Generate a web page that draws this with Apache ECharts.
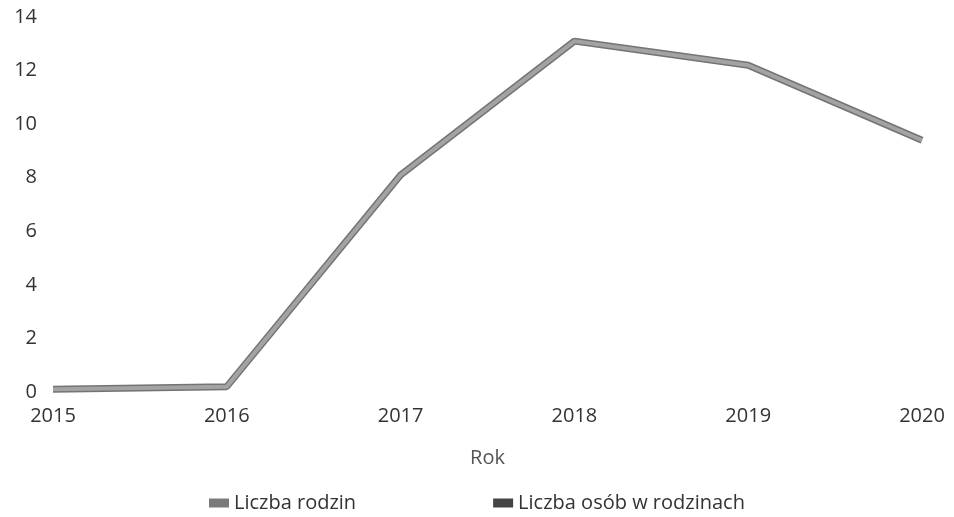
<!DOCTYPE html>
<html>
<head>
<meta charset="utf-8">
<script src="https://cdn.jsdelivr.net/npm/echarts@6/dist/echarts.min.js"></script>
<style>
html,body{margin:0;padding:0;background:#fff;}
#chart{width:954px;height:517px;}
</style>
</head>
<body>
<div id="chart"></div>
<script>
const years = ['2015', '2016', '2017', '2018', '2019', '2020'];
const liczbaRodzin = [0.1, 0.2, 8.1, 13.1, 12.2, 9.4];
const liczbaOsob = [0.1, 0.2, 8.1, 13.1, 12.2, 9.4];
const seriesNames = ['Liczba rodzin', 'Liczba osób w rodzinach'];
const yTicks = { min: 0, max: 14, interval: 2 };

const chart = echarts.init(document.getElementById('chart'));
const font = '"Open Sans", "Noto Sans", sans-serif';
chart.setOption({
  animation: false,
  textStyle: { fontFamily: font },
  grid: { left: 53, right: 32, top: 17, bottom: 125 },
  legend: {
    top: 488,
    left: 204,
    itemGap: 137,
    itemWidth: 20,
    itemHeight: 9,
    icon: 'rect',
    textStyle: { fontFamily: font, fontSize: 20, color: '#333' },
    data: [
      { name: seriesNames[0], itemStyle: { color: '#7a7a7a' } },
      { name: seriesNames[1], itemStyle: { color: '#444' } }
    ]
  },
  xAxis: {
    type: 'category',
    data: years,
    boundaryGap: false,
    name: 'Rok',
    nameLocation: 'middle',
    nameGap: 56,
    nameTextStyle: { fontFamily: font, fontSize: 20, color: '#555' },
    axisLine: { show: false },
    axisTick: { show: false },
    axisLabel: { fontFamily: font, fontSize: 20, color: '#333', margin: 14 }
  },
  yAxis: {
    type: 'value',
    min: yTicks.min,
    max: yTicks.max,
    interval: yTicks.interval,
    splitLine: { show: false },
    axisLine: { show: false },
    axisTick: { show: false },
    axisLabel: { fontFamily: font, fontSize: 20, color: '#333', margin: 16 }
  },
  series: [
    {
      name: seriesNames[1],
      type: 'line',
      data: liczbaOsob,
      symbol: 'none',
      z: 2,
      color: '#444',
      lineStyle: { color: '#747474', width: 7 }
    },
    {
      name: seriesNames[0],
      type: 'line',
      data: liczbaRodzin,
      symbol: 'none',
      z: 3,
      color: '#7a7a7a',
      lineStyle: { color: '#a3a3a3', width: 4 }
    }
  ]
});
</script>
</body>
</html>
